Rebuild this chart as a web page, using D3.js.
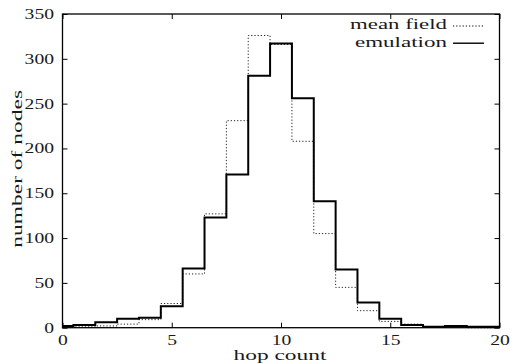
<!DOCTYPE html>
<html>
<head>
<meta charset="utf-8">
<script src="https://cdn.jsdelivr.net/npm/d3@7"></script>
<style>
  body { margin: 0; background: #fff; }
  text { font-family: 'Liberation Serif', 'DejaVu Serif', serif; fill: #1a1a1a; }
</style>
</head>
<body>
<div id="chart"></div>
<script>
// hop counts 0..20
var hops = d3.range(0, 21);
var meanField = [1, 1, 2, 4, 9, 27, 60, 127, 231, 326, 316, 208, 105, 45, 19, 7, 4, 1, 0.5, 0, 0];
var emulation = [2, 3, 6, 10, 11, 24, 66, 123, 171, 281, 317, 256, 141, 65, 28, 10, 3, 1, 2, 1, 1];
var xTicks = [0, 5, 10, 15, 20];
var yTicks = [0, 50, 100, 150, 200, 250, 300, 350];
var legendNames = ['mean field', 'emulation'];

var W = 514, H = 364;
var m = { left: 62.5, right: 14.5, top: 14, bottom: 36.3 };
var iw = W - m.left - m.right, ih = H - m.top - m.bottom;
var fs = 15;

var svg = d3.select('#chart').append('svg').attr('width', W).attr('height', H);
var g = svg.append('g').attr('transform', 'translate(' + m.left + ',' + m.top + ')');

var x = d3.scaleLinear().domain([0, 20]).range([0, iw]);
var y = d3.scaleLinear().domain([0, 350]).range([ih, 0]);

// stretch text horizontally to a given width (original figure is wide-set)
function fit(sel, w) {
  sel.attr('textLength', w).attr('lengthAdjust', 'spacingAndGlyphs');
}

// series
var line = d3.line()
  .x(function (d, i) { return x(hops[i]); })
  .y(function (d) { return y(d); })
  .curve(d3.curveStep);

g.append('path').datum(meanField)
  .attr('d', line)
  .attr('fill', 'none')
  .attr('stroke', '#222')
  .attr('stroke-width', 1)
  .attr('stroke-dasharray', '1.2,2');

g.append('path').datum(emulation)
  .attr('d', line)
  .attr('fill', 'none')
  .attr('stroke', '#000')
  .attr('stroke-width', 2);

// axes (ticks inside, mirrored)
var tl = 5;
var xb = d3.axisBottom(x).tickValues(xTicks).tickSizeInner(-tl).tickSizeOuter(0).tickPadding(7);
var xt = d3.axisTop(x).tickValues(xTicks).tickSizeInner(-tl).tickSizeOuter(0).tickFormat('');
var yl = d3.axisLeft(y).tickValues(yTicks).tickSizeInner(-tl).tickSizeOuter(0).tickPadding(8.5);
var yr = d3.axisRight(y).tickValues(yTicks).tickSizeInner(-tl).tickSizeOuter(0).tickFormat('');

var ax = [
  g.append('g').attr('transform', 'translate(0,' + ih + ')').call(xb),
  g.append('g').call(xt),
  g.append('g').call(yl),
  g.append('g').attr('transform', 'translate(' + iw + ',0)').call(yr)
];
ax.forEach(function (a) {
  a.attr('font-family', null).attr('font-size', null);
  a.select('.domain').remove();
  a.selectAll('line').attr('stroke', '#000').attr('stroke-width', 1);
  a.selectAll('text').attr('font-size', 14).attr('fill', '#1a1a1a')
    .each(function () {
      var t = d3.select(this);
      fit(t, t.text().length * 9.8);
    });
});

g.append('rect').attr('width', iw).attr('height', ih)
  .attr('fill', 'none').attr('stroke', '#000').attr('stroke-width', 1.3);

// axis titles
g.append('text').attr('x', iw / 2 - 1).attr('y', ih + 31.8)
  .attr('text-anchor', 'middle').attr('font-size', fs).text('hop count')
  .call(fit, 93);
g.append('text').attr('transform', 'translate(' + (-40.5) + ',' + (ih / 2 - 2) + ') rotate(-90)')
  .attr('text-anchor', 'middle').attr('font-size', fs).text('number of nodes')
  .call(fit, 158);

// legend
var leg = g.append('g').attr('transform', 'translate(' + (iw - 46.5) + ',0)');
var legW = [97, 92];
legendNames.forEach(function (n, i) {
  var yy = 12 + i * 17.2;
  leg.append('text').attr('x', -6).attr('y', yy + 3.3).attr('text-anchor', 'end')
    .attr('font-size', fs).text(n).call(fit, legW[i]);
  leg.append('line').attr('x1', 0).attr('x2', 31).attr('y1', yy).attr('y2', yy)
    .attr('stroke', '#000')
    .attr('stroke-width', i === 0 ? 1 : 1.4)
    .attr('stroke-dasharray', i === 0 ? '1.2,2' : null);
});
</script>
</body>
</html>
